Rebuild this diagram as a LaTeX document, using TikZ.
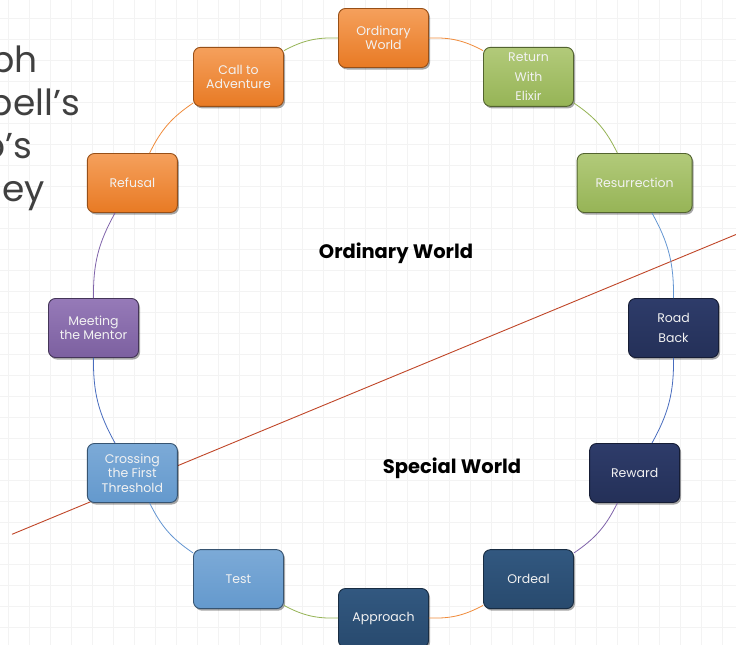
\documentclass[tikz,border=0pt]{standalone}
\usepackage{fontspec}
\setmainfont{Poppins}
\usetikzlibrary{shadows}
\definecolor{gridc}{RGB}{243,243,243}
\definecolor{redl}{RGB}{192,70,40}
\definecolor{titlec}{RGB}{64,64,64}
\definecolor{boxtext}{RGB}{242,242,242}
\definecolor{orL}{RGB}{245,160,92}
\definecolor{orD}{RGB}{232,122,36}
\definecolor{grL}{RGB}{178,202,122}
\definecolor{grD}{RGB}{150,180,86}
\definecolor{nvL}{RGB}{46,60,106}
\definecolor{nvD}{RGB}{36,48,88}
\definecolor{stL}{RGB}{50,88,128}
\definecolor{stD}{RGB}{40,74,110}
\definecolor{lbL}{RGB}{124,170,215}
\definecolor{lbD}{RGB}{100,153,205}
\definecolor{puL}{RGB}{150,122,184}
\definecolor{puD}{RGB}{124,96,160}
\definecolor{cOr}{RGB}{240,140,60}
\definecolor{cGr}{RGB}{150,180,86}
\definecolor{cLb}{RGB}{100,150,210}
\definecolor{cBl}{RGB}{72,108,190}
\definecolor{cPu}{RGB}{128,100,170}
\tikzset{
  box/.style={rounded corners=7pt, minimum width=90pt, minimum height=59pt,
    align=center, text=boxtext, font=\fontsize{12.5}{14.5}\selectfont,
    line width=0.9pt,
    drop shadow={shadow xshift=1.5pt, shadow yshift=-2pt, opacity=0.35, fill=black}},
  orbox/.style={box, draw=orD!65!black, top color=orL, bottom color=orD},
  grbox/.style={box, draw=grD!55!black, top color=grL, bottom color=grD},
  nvbox/.style={box, draw=nvD!60!black, top color=nvL, bottom color=nvD},
  stbox/.style={box, draw=stD!60!black, top color=stL, bottom color=stD},
  lbbox/.style={box, draw=lbD!55!black, top color=lbL, bottom color=lbD},
  pubox/.style={box, draw=puD!55!black, top color=puL, bottom color=puD},
  conn/.style={line width=0.8pt},
  title/.style={anchor=base east, text=titlec, font=\fontsize{36}{43}\selectfont, inner sep=0pt},
  world/.style={font=\fontsize{19.5}{24}\selectfont\bfseries, text=black}
}
\begin{document}
\begin{tikzpicture}[x=1pt,y=1pt]
\useasboundingbox (0,0) rectangle (736,-645);
\fill[white] (0,0) rectangle (736,-645);
\foreach \i in {0,...,34} {\draw[gridc, line width=0.6pt] ({8.7+21*\i},0) -- ({8.7+21*\i},-645);}
\foreach \j in {0,...,30} {\draw[gridc, line width=0.6pt] (0,{-18-21*\j}) -- (736,{-18-21*\j});}
% title fragments
\node[title] (t1) at (38,-72) {ph};
\node[title] (t2) at (80,-115) {bell’s};
\node[title] (t3) at (32,-158) {o’s};
\node[title] (t4) at (45,-201) {ey};
% dividing line
\coordinate (ls) at (12,-534.3);
\coordinate (le) at (736,-234.5);
\draw[redl, line width=0.9pt] (ls) -- (le);
% center labels
\node[world] (owl) at (396,-253) {Ordinary World};
\node[world] (swl) at (452,-468) {Special World};
% cycle
\coordinate (c) at (383.5,-328);
\node[orbox] (ow) at ([shift={(90:290pt)}]c) {Ordinary\\World};
\node[grbox] (rwe) at ([shift={(60:290pt)}]c) {Return\\[5pt]With\\[5pt]Elixir};
\node[grbox, minimum width=115pt] (res) at ([shift={(30:290pt)}]c) {Resurrection};
\node[nvbox] (rb) at ([shift={(0:290pt)}]c) {Road\\[6pt]Back};
\node[nvbox] (rew) at ([shift={(-30:290pt)}]c) {Reward};
\node[stbox] (ord) at ([shift={(-60:290pt)}]c) {Ordeal};
\node[stbox] (app) at ([shift={(-90:290pt)}]c) {Approach};
\node[lbbox] (test) at ([shift={(-120:290pt)}]c) {Test};
\node[lbbox] (cross) at ([shift={(-150:290pt)}]c) {Crossing\\the First\\Threshold};
\node[pubox] (meet) at ([shift={(180:290pt)}]c) {Meeting\\the Mentor};
\node[orbox] (ref) at ([shift={(150:290pt)}]c) {Refusal};
\node[orbox] (call) at ([shift={(120:290pt)}]c) {Call to\\Adventure};
% connectors
\draw[conn, cOr] (ow) to[bend left=15] (rwe);
\draw[conn, cGr] (rwe) to[bend left=15] (res);
\draw[conn, cLb] (res) to[bend left=15] (rb);
\draw[conn, cBl] (rb) to[bend left=15] (rew);
\draw[conn, cPu] (rew) to[bend left=15] (ord);
\draw[conn, cOr] (ord) to[bend left=15] (app);
\draw[conn, cGr] (app) to[bend left=15] (test);
\draw[conn, cLb] (test) to[bend left=15] (cross);
\draw[conn, cBl] (cross) to[bend left=15] (meet);
\draw[conn, cPu] (meet) to[bend left=15] (ref);
\draw[conn, cOr] (ref) to[bend left=15] (call);
\draw[conn, cGr] (call) to[bend left=15] (ow);
\end{tikzpicture}
\end{document}
